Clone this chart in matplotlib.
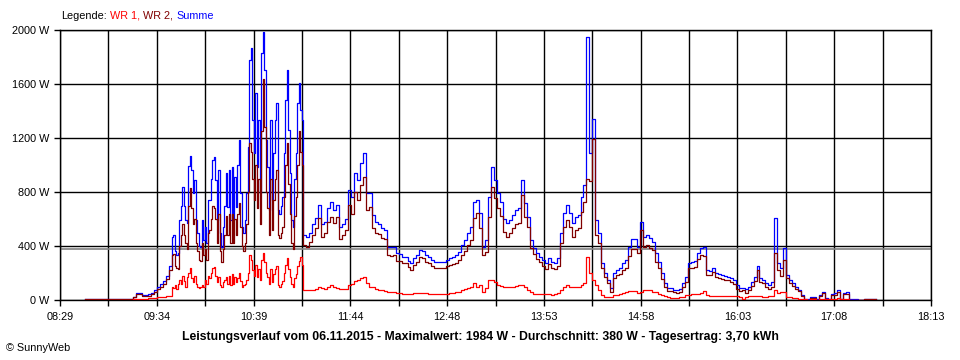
import numpy as np
import matplotlib

matplotlib.use("Agg")
import matplotlib.pyplot as plt  # noqa: E402

plt.rcParams["font.family"] = ["Liberation Sans", "DejaVu Sans"]

# x-Achse in Minuten seit Mitternacht
X_START = 8 * 60 + 29   # 08:29
X_END = 18 * 60 + 13    # 18:13
N_GRID = 18             # Rasterintervalle, Beschriftung an jedem zweiten
uhrzeiten = ["08:29", "09:34", "10:39", "11:44", "12:48",
             "13:53", "14:58", "16:03", "17:08", "18:13"]
y_ticks_w = [0, 400, 800, 1200, 1600, 2000]
durchschnitt_w = 380

legende = ["WR 1,", "WR 2,", "Summe"]
farben = ["#ff0000", "#800000", "#0000ff"]
titel = ("Leistungsverlauf vom 06.11.2015 - Maximalwert: 1984 W - "
         "Durchschnitt: 380 W - Tagesertrag: 3,70 kWh")

# Morgen: 08:46 bis 09:42, alle 2 Minuten
frueh_start, frueh_step = 8 * 60 + 46, 2
summe_frueh = [5, 5, 5, 5, 5, 5, 5, 5, 5, 5,
               5, 5, 6, 6, 8, 10, 25, 50, 55, 40,
               37, 45, 55, 75, 99, 115, 140, 180, 250]
wr1_frueh = [0, 0, 0, 0, 0, 0, 0, 0, 0, 0,
             0, 0, 0, 0, 0, 0, 5, 5, 7, 8,
             10, 12, 14, 17, 20, 22, 25, 28, 30]
wr2_frueh = [5, 5, 5, 5, 5, 5, 5, 5, 5, 5,
             5, 5, 6, 6, 8, 10, 20, 45, 48, 32,
             27, 33, 41, 58, 79, 93, 115, 152, 220]

# Wolkenphase: 09:44 bis 11:11, jede Minute
wolken_start, wolken_step = 9 * 60 + 44, 1
summe_wolken = [470, 480, 360, 330, 350, 593, 700, 840, 700, 590,
                570, 990, 1065, 960, 790, 890, 590, 494, 400, 395,
                593, 444, 543, 420, 740, 740, 900, 1037, 1060, 890,
                593, 963, 494, 395, 544, 700, 938, 691, 963, 593,
                988, 593, 913, 691, 1000, 1185, 790, 543, 494, 593,
                790, 1136, 1778, 1864, 1333, 1086, 1531, 988, 1333, 790,
                1827, 1984, 1704, 1185, 988, 667, 1333, 741, 1086, 1333,
                1457, 667, 640, 700, 765, 1086, 1481, 1704, 1259, 938,
                593, 543, 900, 1086, 1457, 1605, 1407, 1333]
wr1_wolken = [100, 90, 110, 80, 120, 150, 120, 180, 140, 100,
              170, 200, 235, 160, 130, 180, 120, 100, 90, 100,
              110, 95, 150, 120, 180, 160, 200, 235, 247, 180,
              130, 170, 110, 100, 130, 150, 170, 120, 180, 110,
              190, 120, 170, 130, 160, 200, 140, 100, 110, 120,
              150, 200, 330, 300, 220, 180, 260, 170, 230, 150,
              300, 346, 280, 200, 170, 120, 230, 130, 190, 230,
              250, 110, 100, 120, 140, 200, 260, 308, 230, 170,
              120, 100, 160, 190, 250, 290, 320, 260]
wr2_wolken = [330, 340, 250, 240, 230, 400, 480, 560, 480, 420,
              380, 700, 830, 680, 560, 600, 420, 360, 300, 290,
              420, 330, 380, 300, 500, 520, 600, 700, 680, 600,
              420, 640, 360, 280, 380, 480, 620, 480, 640, 420,
              640, 420, 600, 480, 640, 720, 540, 400, 360, 420,
              560, 800, 1160, 1100, 900, 740, 1000, 680, 900, 560,
              1250, 1640, 1280, 800, 680, 480, 900, 520, 740, 900,
              960, 480, 460, 500, 540, 760, 1000, 1160, 860, 640,
              420, 380, 620, 760, 1000, 1250, 1100, 1000]

# Nachmittag: 11:12 bis 17:36, alle 2 Minuten
spaet_start, spaet_step = 11 * 60 + 12, 2
summe_spaet = [480, 470, 500, 560, 610, 704, 560, 580, 680, 728,
               667, 704, 540, 560, 600, 815, 760, 938, 889, 1012,
               1086, 790, 790, 630, 580, 560, 530, 520, 395, 390,
               390, 346, 340, 321, 321, 290, 272, 310, 333, 370,
               360, 333, 320, 296, 284, 280, 280, 280, 300, 309,
               321, 333, 358, 407, 444, 494, 543, 728, 740, 642,
               395, 444, 765, 988, 889, 790, 728, 600, 568, 592,
               630, 667, 680, 889, 716, 617, 444, 383, 346, 320,
               296, 272, 309, 280, 272, 309, 494, 642, 704, 642,
               568, 617, 630, 765, 852, 1950, 1086, 1340, 593, 494,
               272, 198, 150, 86, 198, 222, 235, 272, 296, 395,
               449, 449, 395, 575, 470, 481, 460, 432, 346, 284,
               198, 124, 90, 86, 74, 72, 80, 124, 173, 272,
               280, 290, 346, 383, 395, 222, 215, 234, 200, 190,
               185, 175, 173, 160, 148, 111, 90, 86, 80, 99,
               136, 173, 251, 160, 148, 123, 111, 130, 605, 272,
               240, 383, 185, 148, 123, 99, 74, 37, 5, 5,
               20, 20, 5, 37, 62, 12, 7, 42, 49, 74,
               5, 49, 57, 5, 5, 5, 0, 0, 5, 5,
               5, 5, 5]
wr1_spaet = [74, 74, 74, 76, 80, 99, 90, 85, 100, 111,
             95, 90, 85, 80, 85, 111, 120, 140, 150, 160,
             173, 123, 100, 99, 80, 74, 74, 70, 62, 62,
             60, 55, 50, 48, 47, 47, 48, 50, 50, 52,
             52, 50, 48, 47, 45, 44, 44, 45, 48, 52,
             55, 60, 62, 74, 80, 86, 100, 123, 99, 111,
             62, 90, 148, 150, 136, 111, 105, 99, 99, 99,
             100, 104, 111, 111, 99, 74, 62, 44, 42, 42,
             42, 42, 42, 40, 45, 55, 74, 99, 111, 99,
             99, 99, 99, 110, 124, 321, 198, 148, 110, 74,
             37, 25, 25, 25, 37, 37, 45, 49, 60, 69,
             69, 69, 49, 60, 74, 74, 74, 62, 62, 44,
             40, 30, 22, 17, 17, 18, 20, 25, 37, 37,
             44, 44, 44, 49, 69, 35, 30, 30, 30, 30,
             30, 28, 28, 28, 28, 28, 20, 10, 25, 28,
             30, 30, 30, 28, 25, 25, 28, 30, 74, 50,
             62, 62, 20, 20, 18, 15, 10, 5, 5, 3,
             8, 8, 3, 8, 10, 5, 5, 8, 10, 12,
             5, 8, 10, 3, 2, 2, 0, 0, 0, 0,
             0, 0, 0]
wr2_spaet = [406, 396, 426, 484, 530, 605, 470, 495, 580, 617,
             572, 614, 455, 480, 515, 704, 640, 798, 739, 852,
             913, 667, 690, 531, 500, 486, 456, 450, 333, 328,
             330, 291, 290, 273, 274, 243, 224, 260, 283, 318,
             308, 283, 272, 249, 239, 236, 236, 235, 252, 257,
             266, 273, 296, 333, 364, 408, 443, 605, 641, 531,
             333, 354, 617, 838, 753, 679, 623, 501, 469, 493,
             530, 563, 569, 778, 617, 543, 382, 339, 304, 278,
             254, 230, 267, 240, 227, 254, 420, 543, 593, 543,
             469, 518, 531, 655, 728, 900, 880, 1190, 483, 420,
             235, 173, 125, 61, 161, 185, 190, 223, 236, 326,
             380, 380, 346, 515, 396, 407, 386, 370, 284, 240,
             158, 94, 68, 69, 57, 54, 60, 99, 136, 235,
             236, 246, 302, 334, 326, 187, 185, 204, 170, 160,
             155, 147, 145, 132, 120, 83, 70, 76, 55, 71,
             106, 143, 221, 132, 123, 98, 83, 100, 350, 222,
             178, 300, 165, 128, 105, 84, 64, 32, 0, 2,
             12, 12, 2, 29, 52, 7, 2, 34, 39, 62,
             0, 41, 47, 2, 3, 3, 0, 0, 5, 5,
             5, 5, 5]


def zeitachse(start, step, werte):
    return start + step * np.arange(len(werte))


t = np.concatenate([zeitachse(frueh_start, frueh_step, summe_frueh),
                    zeitachse(wolken_start, wolken_step, summe_wolken),
                    zeitachse(spaet_start, spaet_step, summe_spaet)])
summe = np.array(summe_frueh + summe_wolken + summe_spaet, dtype=float)
wr1 = np.array(wr1_frueh + wr1_wolken + wr1_spaet, dtype=float)
wr2 = np.array(wr2_frueh + wr2_wolken + wr2_spaet, dtype=float)

FS = 7.8
fig = plt.figure(figsize=(9.6, 3.6), dpi=100)
ax = fig.add_axes([60 / 960, 60 / 360, 871 / 960, 270 / 360])

ax.plot(t, summe, color=farben[2], lw=0.9, drawstyle="steps-post", zorder=3)
ax.plot(t, wr2, color=farben[1], lw=0.9, drawstyle="steps-post", zorder=4)
ax.plot(t, wr1, color=farben[0], lw=0.9, drawstyle="steps-post", zorder=5)
ax.axhline(durchschnitt_w, color="#808080", lw=1.2, zorder=2)

ax.set_xlim(X_START, X_END)
ax.set_ylim(y_ticks_w[0], y_ticks_w[-1])
xpos = np.linspace(X_START, X_END, N_GRID + 1)
ax.set_xticks(xpos)
ax.set_xticklabels([uhrzeiten[i // 2] if i % 2 == 0 else "" for i in range(len(xpos))])
ax.set_yticks(y_ticks_w)
ax.set_yticklabels([f"{v} W" for v in y_ticks_w])
ax.tick_params(direction="out", length=4, width=1.0, color="black",
               labelsize=FS, pad=4)
ax.tick_params(axis="x", pad=5)
ax.grid(True, color="black", lw=1.0)
ax.set_axisbelow(True)
for sp in ax.spines.values():
    sp.set_color("black")
    sp.set_linewidth(1.0)

# Legende oben links, farbig hintereinander
prev = fig.text(61 / 960, 1 - 16 / 360, "Legende:", color="black",
                fontsize=FS, ha="left", va="center")
for txt, col in zip(legende, farben):
    prev = ax.annotate(txt, xy=(1, 0), xycoords=prev, xytext=(2.2, 0),
                       textcoords="offset points", color=col, fontsize=FS,
                       ha="left", va="bottom", annotation_clip=False)

fig.text(0.5, 1 - 337 / 360, titel, fontsize=8.8, fontweight="bold",
         ha="center", va="center")
fig.text(6 / 960, 1 - 348 / 360, "\u00a9 SunnyWeb", fontsize=FS,
         ha="left", va="center")

fig.savefig("out.png", dpi=100)
